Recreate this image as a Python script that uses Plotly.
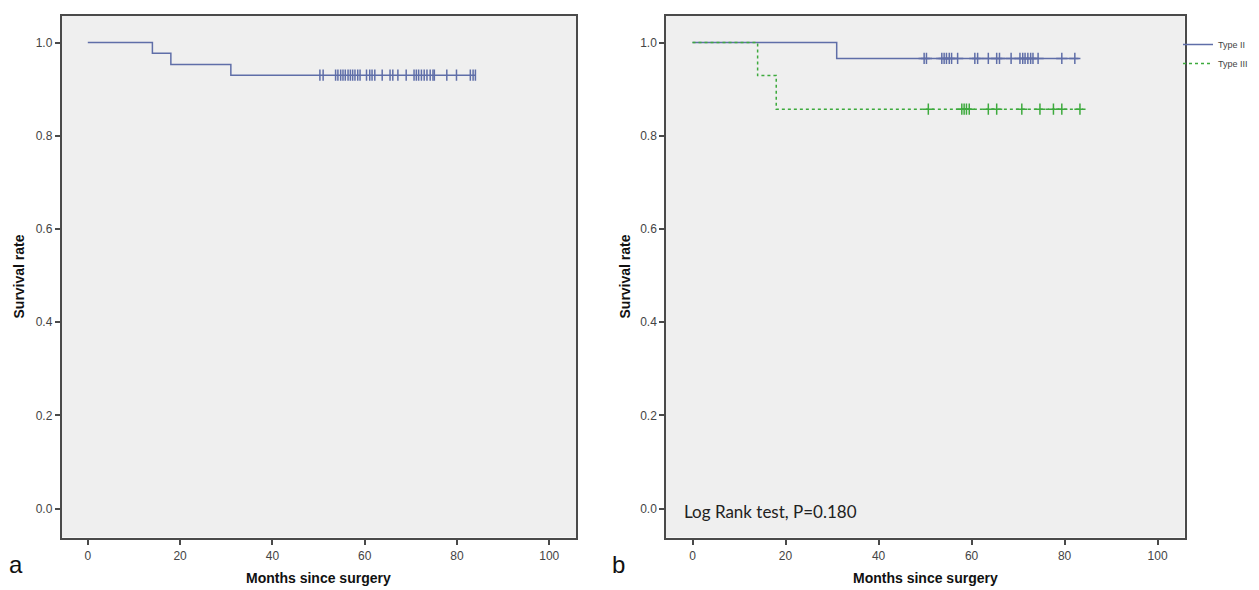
import plotly.graph_objects as go
import numpy as np

# ---------------- data ----------------
# Panel a: overall Kaplan-Meier curve
a_step_months = [0, 14, 18, 31, 84]
a_step_surv = [1.0, 0.977, 0.953, 0.930, 0.930]
a_censored = [50.3, 51.0, 53.7, 54.2, 54.8, 55.3, 55.8, 56.4, 56.9, 57.4, 57.9,
              58.5, 59.0, 60.4, 61.1, 61.6, 62.2, 63.8, 65.5, 66.1, 67.2, 69.0,
              70.7, 71.2, 71.7, 72.3, 72.9, 73.5, 74.2, 74.8, 75.1, 77.8, 79.9,
              82.9, 83.5, 84.0]

# Panel b: Type II vs Type III
b2_step_months = [0, 31, 83]
b2_step_surv = [1.0, 0.966, 0.966]
b2_censored = [49.8, 50.3, 53.6, 54.1, 54.6, 55.2, 55.7, 57.0, 60.7, 61.3, 63.6,
               65.4, 66.0, 68.5, 70.4, 71.0, 71.5, 72.1, 72.7, 73.2, 74.3, 79.4,
               82.2]
b3_step_months = [0, 14, 18, 84]
b3_step_surv = [1.0, 0.929, 0.857, 0.857]
b3_censored = [50.7, 57.9, 58.4, 58.9, 59.5, 63.6, 65.4, 70.8, 74.7, 77.6, 79.4, 83.3]

series_names = ["Type II", "Type III"]
x_ticks = [0, 20, 40, 60, 80, 100]
y_ticks = [0.0, 0.2, 0.4, 0.6, 0.8, 1.0]
x_title = "Months since surgery"
y_title = "Survival rate"
note_text = "Log Rank test, P=0.180"

# ---------------- styling ----------------
BLUE = "#5f6ea8"
GREEN = "#3daa3d"
AXIS = "#4a4a4a"
BG = "#efefef"
W, H = 1259, 590


def surv_at(t, xs, ys):
    idx = np.searchsorted(np.array(xs), t, side="right") - 1
    return [ys[i] for i in idx]


fig = go.Figure()

# panel a
fig.add_trace(go.Scatter(x=a_step_months, y=a_step_surv, mode="lines",
                         line=dict(color=BLUE, width=1.5, shape="hv"),
                         xaxis="x", yaxis="y", showlegend=False))
fig.add_trace(go.Scatter(x=a_censored, y=surv_at(a_censored, a_step_months, a_step_surv),
                         mode="markers",
                         marker=dict(symbol="line-ns-open", size=8, color=BLUE,
                                     line=dict(color=BLUE, width=1.5)),
                         xaxis="x", yaxis="y", showlegend=False))

# panel b
fig.add_trace(go.Scatter(x=b2_step_months, y=b2_step_surv, mode="lines",
                         line=dict(color=BLUE, width=1.5, shape="hv"),
                         name=series_names[0], legendgroup="2",
                         xaxis="x2", yaxis="y2"))
fig.add_trace(go.Scatter(x=b2_censored, y=surv_at(b2_censored, b2_step_months, b2_step_surv),
                         mode="markers",
                         marker=dict(symbol="cross-thin-open", size=8, color=BLUE,
                                     line=dict(color=BLUE, width=1.5)),
                         legendgroup="2", showlegend=False,
                         xaxis="x2", yaxis="y2"))
fig.add_trace(go.Scatter(x=b3_step_months, y=b3_step_surv, mode="lines",
                         line=dict(color=GREEN, width=1.5, shape="hv", dash="dot"),
                         name=series_names[1], legendgroup="3",
                         xaxis="x2", yaxis="y2"))
fig.add_trace(go.Scatter(x=b3_censored, y=surv_at(b3_censored, b3_step_months, b3_step_surv),
                         mode="markers",
                         marker=dict(symbol="cross-thin-open", size=8, color=GREEN,
                                     line=dict(color=GREEN, width=1.5)),
                         legendgroup="3", showlegend=False,
                         xaxis="x2", yaxis="y2"))

ydom = [1 - 537.5 / H, 1 - 15.5 / H]
xdom_a = [61.5 / W, 576 / W]
xdom_b = [666 / W, 1184.6 / W]

common_x = dict(range=[-5.7, 105.8], tickvals=x_ticks, ticktext=[str(v) for v in x_ticks],
                showgrid=False, zeroline=False, showline=True, linecolor=AXIS,
                linewidth=1.5, mirror=True, ticks="outside", ticklen=6, tickwidth=1.5,
                tickcolor=AXIS, tickfont=dict(family="Liberation Sans", size=12, color="#444"))
common_y = dict(range=[-0.062, 1.058], tickvals=y_ticks,
                ticktext=[f"{v:.1f}" for v in y_ticks],
                showgrid=False, zeroline=False, showline=True, linecolor=AXIS,
                linewidth=1.5, mirror=True, ticks="outside", ticklen=5, tickwidth=1.5,
                tickcolor=AXIS, tickfont=dict(family="Liberation Sans", size=12, color="#444"))

fig.update_layout(
    width=W, height=H,
    margin=dict(l=0, r=0, t=0, b=0),
    paper_bgcolor="white",
    plot_bgcolor=BG,
    xaxis=dict(common_x, domain=xdom_a, anchor="y"),
    yaxis=dict(common_y, domain=ydom, anchor="x"),
    xaxis2=dict(common_x, domain=xdom_b, anchor="y2"),
    yaxis2=dict(common_y, domain=ydom, anchor="x2"),
    legend=dict(x=1178 / W, y=1 - 30 / H, xanchor="left", yanchor="top",
                bgcolor="rgba(0,0,0,0)", font=dict(family="Liberation Sans", size=9, color="#444"),
                itemwidth=30, tracegroupgap=0),
    showlegend=True,
)

ann = []
# axis titles
for cx in [(xdom_a[0] + xdom_a[1]) / 2, (xdom_b[0] + xdom_b[1]) / 2]:
    ann.append(dict(text=f"<b>{x_title}</b>", x=cx, y=1 - 578 / H, xref="paper", yref="paper",
                    showarrow=False, font=dict(family="Liberation Sans", size=14, color="#111"),
                    xanchor="center", yanchor="middle"))
for yx in [18, 624]:
    ann.append(dict(text=f"<b>{y_title}</b>", x=yx / W, y=(ydom[0] + ydom[1]) / 2,
                    xref="paper", yref="paper", textangle=-90, showarrow=False,
                    font=dict(family="Liberation Sans", size=14, color="#111"),
                    xanchor="center", yanchor="middle"))
# panel letters
ann.append(dict(text="a", x=16 / W, y=1 - 564 / H, xref="paper", yref="paper", showarrow=False,
                font=dict(family="Liberation Sans", size=24, color="#111"),
                xanchor="center", yanchor="middle"))
ann.append(dict(text="b", x=618 / W, y=1 - 564 / H, xref="paper", yref="paper", showarrow=False,
                font=dict(family="Liberation Sans", size=24, color="#111"),
                xanchor="center", yanchor="middle"))
# log rank note
ann.append(dict(text=note_text, x=682 / W, y=1 - 511 / H, xref="paper", yref="paper",
                showarrow=False, font=dict(family="Lato", size=17, color="#222"),
                xanchor="left", yanchor="middle"))
fig.update_layout(annotations=ann)

fig.write_html("out.html", config={"displayModeBar": False},
               post_script="document.body.style.margin='0px';document.body.style.padding='0px';")
